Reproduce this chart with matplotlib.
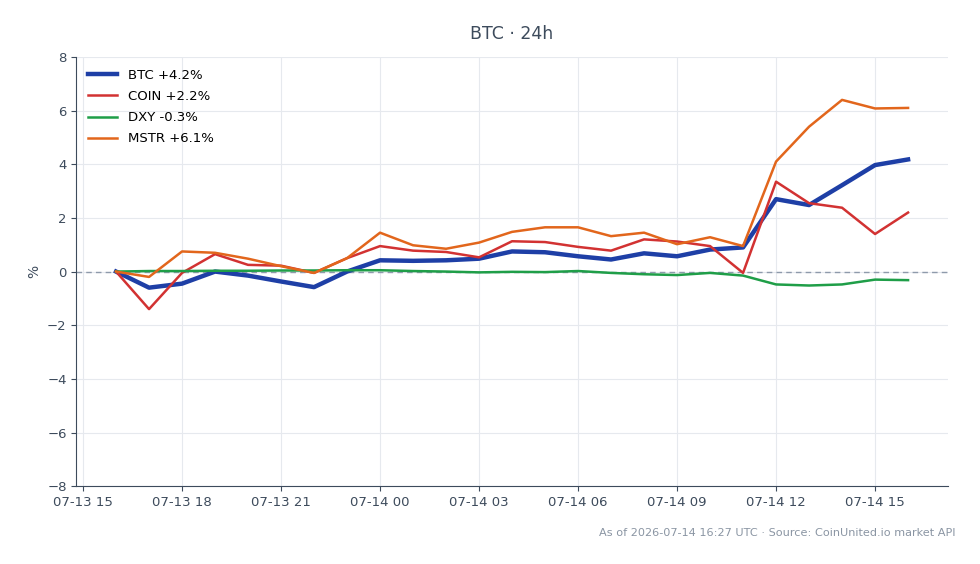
import numpy as np
import pandas as pd
import matplotlib
matplotlib.use("Agg")
import matplotlib.pyplot as plt
import matplotlib.dates as mdates

# hourly % change vs. start, 07-13 16:00 -> 07-14 16:00
times = pd.date_range("2026-07-13 16:00", "2026-07-14 16:00", freq="h")

btc = [0.0, -0.6, -0.45, 0.0, -0.15, -0.37, -0.58, 0.0, 0.42, 0.4, 0.42, 0.48,
       0.75, 0.72, 0.57, 0.45, 0.68, 0.57, 0.82, 0.9, 2.7, 2.48, 3.22, 3.97, 4.18]
coin = [0.0, -1.4, -0.05, 0.65, 0.25, 0.22, -0.05, 0.5, 0.95, 0.78, 0.73, 0.53,
        1.13, 1.1, 0.92, 0.78, 1.2, 1.12, 0.95, -0.05, 3.35, 2.55, 2.38, 1.4, 2.2]
dxy = [0.0, 0.02, 0.02, 0.03, 0.03, 0.04, 0.04, 0.05, 0.05, 0.02, 0.0, -0.03,
       -0.01, -0.02, 0.02, -0.05, -0.1, -0.13, -0.05, -0.15, -0.48, -0.52, -0.48, -0.3, -0.32]
mstr = [0.0, -0.2, 0.75, 0.7, 0.48, 0.2, -0.05, 0.5, 1.45, 0.98, 0.85, 1.08,
        1.48, 1.65, 1.65, 1.32, 1.45, 1.02, 1.28, 0.95, 4.1, 5.4, 6.4, 6.08, 6.1]

series = [("BTC", btc, "#1e3fa6", 3.2),
          ("COIN", coin, "#d23232", 1.8),
          ("DXY", dxy, "#1f9e48", 1.8),
          ("MSTR", mstr, "#e2661c", 1.8)]

text_col = "#3d4b5c"

fig, ax = plt.subplots(figsize=(9.8, 5.64), dpi=100)
fig.subplots_adjust(left=0.078, right=0.967, top=0.899, bottom=0.138)

for name, vals, col, lw in series:
    ax.plot(times, vals, color=col, lw=lw, label=f"{name} {vals[-1]:+.1f}%", zorder=3)

ax.axhline(0, color="#8e9aab", lw=1, ls=(0, (4, 3)), zorder=2)

ax.set_ylim(-8, 8)
ax.set_yticks(np.arange(-8, 9, 2))
ax.xaxis.set_major_locator(mdates.HourLocator(byhour=range(0, 24, 3)))
ax.xaxis.set_major_formatter(mdates.DateFormatter("%m-%d %H"))

ax.grid(True, color="#e6e9ee", lw=0.8, zorder=0)
ax.set_axisbelow(True)
for s in ["top", "right"]:
    ax.spines[s].set_visible(False)
for s in ["left", "bottom"]:
    ax.spines[s].set_color(text_col)
ax.tick_params(colors=text_col, labelsize=9.5)
ax.set_ylabel("%", color=text_col, fontsize=10)

ax.set_title("BTC · 24h", color=text_col, fontsize=12.5, pad=13)
ax.legend(loc="upper left", frameon=False, fontsize=9.5, handlelength=2.2,
          labelspacing=0.62)

fig.text(0.975, 0.055, "As of 2026-07-14 16:27 UTC · Source: CoinUnited.io market API",
         ha="right", va="center", fontsize=8.1, color="#8a95a3")

fig.savefig("out.png", dpi=100)
